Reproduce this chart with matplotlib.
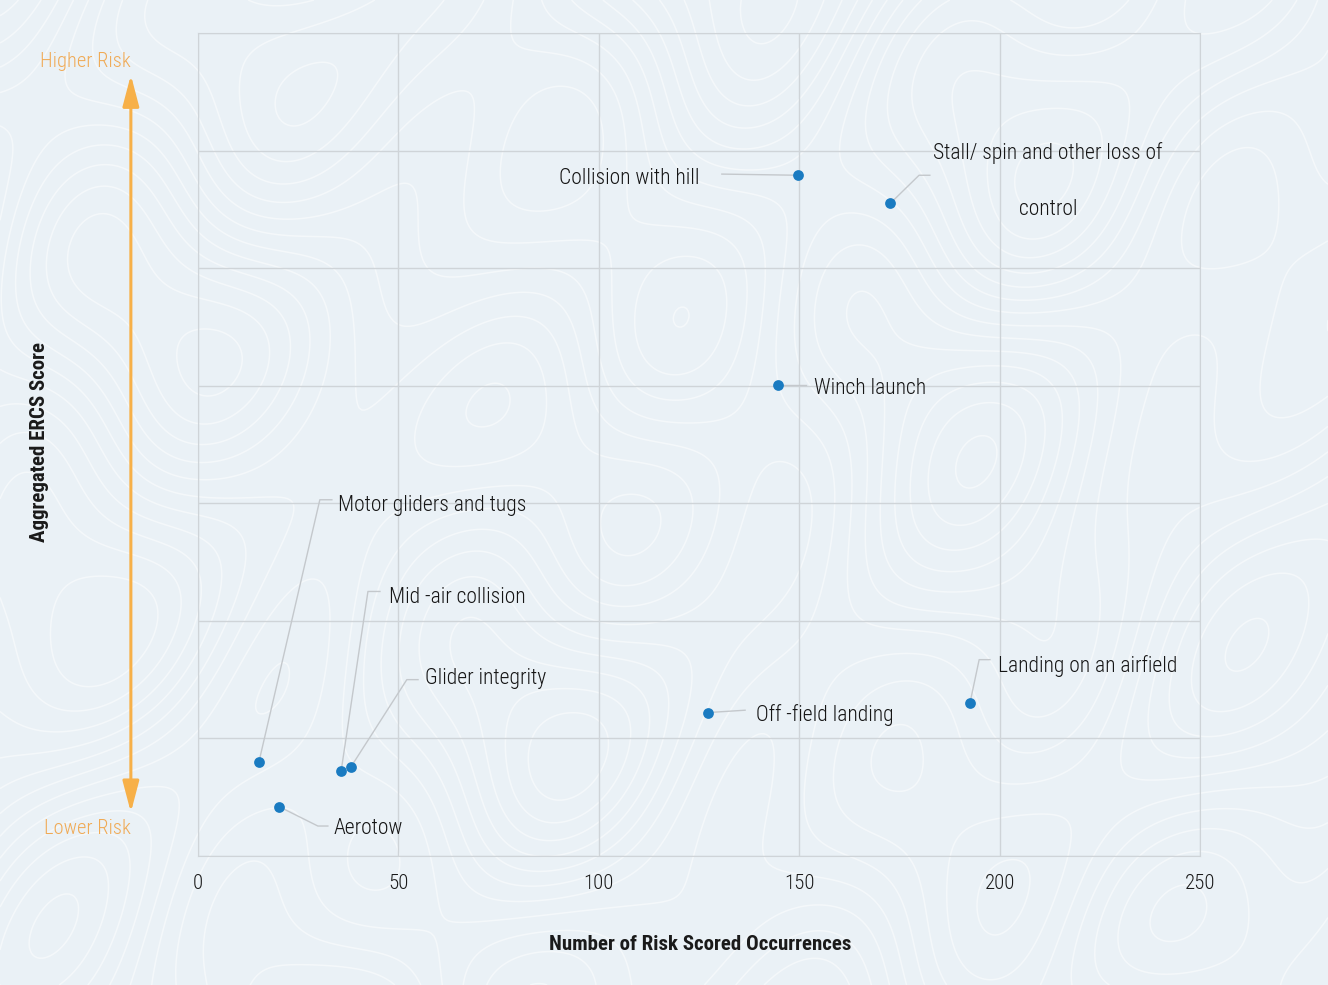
import numpy as np
import matplotlib
matplotlib.use('Agg')
import matplotlib.pyplot as plt

plt.rcParams['font.family'] = ['Roboto Condensed', 'Lato', 'DejaVu Sans']

# data
categories = ['Collision with hill', 'Stall/ spin and other loss of\ncontrol', 'Winch launch',
              'Motor gliders and tugs', 'Mid -air collision', 'Glider integrity', 'Aerotow',
              'Off -field landing', 'Landing on an airfield']
occurrences = [149.7, 172.7, 144.7, 15.2, 35.7, 38.2, 20.2, 127.2, 192.6]
ercs_score = [57.9, 55.5, 40.1, 8.0, 7.2, 7.6, 4.2, 12.2, 13.0]
x_ticks = [0, 50, 100, 150, 200, 250]

# label placement: text x, text y, ha, leader bend points
layout = [
    (125.2, 57.6, 'right', [(130.7, 58.0)]),
    (212.1, 57.4, 'center', [(179.9, 57.9), (182.6, 57.9)]),
    (153.7, 39.8, 'left', [(151.7, 40.1)]),
    (34.9, 29.8, 'left', [(30.4, 30.3), (33.4, 30.3)]),
    (47.7, 22.0, 'left', [(42.4, 22.5), (45.4, 22.5)]),
    (56.6, 15.1, 'left', [(52.1, 15.0), (54.9, 15.0)]),
    (33.7, 2.3, 'left', [(29.9, 2.55), (32.4, 2.55)]),
    (139.2, 12.0, 'left', [(136.5, 12.4)]),
    (199.6, 16.2, 'left', [(194.9, 16.7), (197.6, 16.7)]),
]

bg = '#eaf1f6'
fig = plt.figure(figsize=(13.28, 9.85), dpi=100, facecolor=bg)

# decorative topographic background
bax = fig.add_axes([0, 0, 1, 1], zorder=-5)
bax.set_facecolor(bg)
gx, gy = np.meshgrid(np.linspace(0, 13.28, 500), np.linspace(0, 9.85, 400))
field = (np.sin(gx * 0.9 + np.cos(gy * 0.7) * 1.5) + np.cos(gy * 1.1 - np.sin(gx * 0.6) * 1.2)
         + 0.6 * np.sin(gx * 1.7 + gy * 0.8) + 0.4 * np.cos(gx * 2.3 - gy * 1.9))
bax.contour(gx, gy, field, levels=14, colors='white', linewidths=1.1, alpha=0.5,
            negative_linestyles='solid')
bax.set_xlim(0, 13.28)
bax.set_ylim(0, 9.85)
bax.axis('off')

ax = fig.add_axes([198 / 1328, 1 - 856 / 985, 1002 / 1328, 823 / 985])
ax.set_facecolor('none')
ax.set_xlim(0, 250)
ax.set_ylim(0, 70)
ax.set_xticks(x_ticks)
ax.set_yticks(range(0, 71, 10))
ax.set_yticklabels([])
ax.grid(True, color='#cfd4d8', linewidth=1)
ax.set_axisbelow(True)
ax.tick_params(length=0, pad=13, labelsize=15, colors='#1a1a1a')
for lbl in ax.get_xticklabels():
    lbl.set_fontweight('light')
for s in ax.spines.values():
    s.set_color('#cfd4d8')

for (x, y, name, (tx, ty, ha, bends)) in zip(occurrences, ercs_score, categories, layout):
    xs = [x] + [b[0] for b in bends]
    ys = [y] + [b[1] for b in bends]
    ax.plot(xs, ys, color='#c4c8cc', linewidth=1, zorder=2)
    ax.text(tx, ty, name, ha=ha, va='center', fontsize=15.5, color='#151515',
            fontweight='light', linespacing=3.2, zorder=4)

ax.scatter(occurrences, ercs_score, s=60, color='#1a7bc1', zorder=5, linewidths=0)

# risk arrow
orange = '#f7b048'
ax.annotate('', xy=(-0.067, 0.949), xytext=(-0.067, 0.053), xycoords='axes fraction',
            arrowprops=dict(arrowstyle='<|-|>,head_length=1.9,head_width=0.5', color=orange,
                            lw=2.2, shrinkA=0, shrinkB=0), annotation_clip=False)
ax.text(-0.067, 0.9648, 'Higher Risk', transform=ax.transAxes, ha='right', va='center',
        fontsize=14.8, color='#f0aa55', fontweight='light', clip_on=False)
ax.text(-0.067, 0.034, 'Lower Risk', transform=ax.transAxes, ha='right', va='center',
        fontsize=14.8, color='#f0aa55', fontweight='light', clip_on=False)

fig.text(40 / 1328, 1 - 442 / 985, 'Aggregated ERCS Score', rotation=90, ha='center',
         va='center', fontsize=15, fontweight='bold', color='#1a1a1a')
fig.text(700 / 1328, 1 - 945 / 985, 'Number of Risk Scored Occurrences', ha='center',
         va='center', fontsize=15, fontweight='bold', color='#1a1a1a')

fig.savefig('out.png', dpi=100, facecolor=bg)
